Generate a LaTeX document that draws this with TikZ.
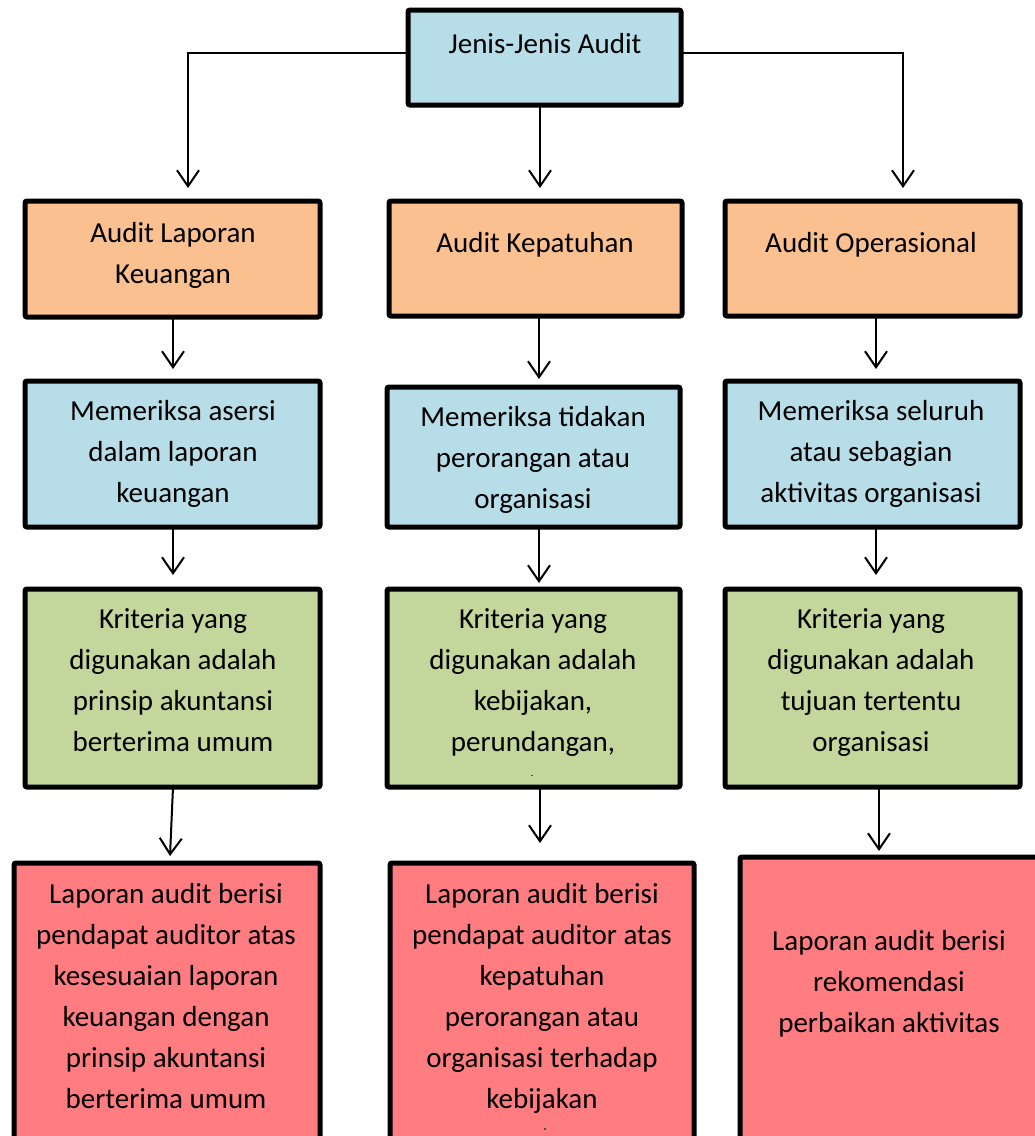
\documentclass[tikz,border=0pt]{standalone}
\usepackage{fontspec}
\setmainfont{Carlito}
\usetikzlibrary{arrows.meta}

\definecolor{boxblue}{RGB}{183,222,232}
\definecolor{boxorange}{RGB}{250,192,143}
\definecolor{boxgreen}{RGB}{195,214,155}
\definecolor{boxred}{RGB}{255,124,128}

\tikzset{
  box/.style={draw=black, line width=5pt, rounded corners=2pt,
    rectangle, inner sep=0pt, outer sep=0pt},
  % labels are placed by the baseline of their last line
  txt/.style={align=center, inner sep=0pt, anchor=base,
    font=\fontsize{29}{41}\selectfont},
  arr/.style={draw=black, line width=2pt,
    -{Straight Barb[length=16pt,width=22pt,line width=2pt]}},
}

% place a box by its corners (border centre lines)
\newcommand{\mkbox}[6]{%
  \node[box, fill=#2, minimum width=#5-#3, minimum height=#6-#4]
    (#1) at ({(#3+#5)/2},{(#4+#6)/2}) {};}

\begin{document}
\begin{tikzpicture}[x=1pt,y=-1pt]
\useasboundingbox (0,0) rectangle (1035,1136);
\clip (0,0) rectangle (1035,1136);

% top
\mkbox{top}{boxblue}{408}{10}{681}{105}
\node[txt] (ttop) at (545,53) {Jenis-Jenis Audit};

% row 1: audit types
\mkbox{oA}{boxorange}{25}{201}{320}{317}
\mkbox{oB}{boxorange}{389}{201}{682}{316}
\mkbox{oC}{boxorange}{725}{201}{1020}{316}
\node[txt] (toA) at (173,283) {Audit Laporan\\Keuangan};
\node[txt] (toB) at (535,252) {Audit Kepatuhan};
\node[txt] (toC) at (871,252) {Audit Operasional};

% row 2: what is examined
\mkbox{bA}{boxblue}{25}{381}{320}{527}
\mkbox{bB}{boxblue}{387}{387}{680}{527}
\mkbox{bC}{boxblue}{725}{381}{1020}{527}
\node[txt] (tbA) at (173,502) {Memeriksa asersi\\dalam laporan\\keuangan};
\node[txt] (tbB) at (533,508) {Memeriksa tidakan\\perorangan atau\\organisasi};
\node[txt] (tbC) at (871,502) {Memeriksa seluruh\\atau sebagian\\aktivitas organisasi};

% row 3: criteria
\mkbox{gA}{boxgreen}{25}{589}{320}{787}
\mkbox{gB}{boxgreen}{387}{589}{680}{787}
\mkbox{gC}{boxgreen}{725}{589}{1020}{787}
\node[txt] (tgA) at (173,751) {Kriteria yang\\digunakan adalah\\prinsip akuntansi\\berterima umum};
\node[txt] (tgB) at (533,751) {Kriteria yang\\digunakan adalah\\kebijakan,\\perundangan,};
\node[txt] (tgC) at (871,751) {Kriteria yang\\digunakan adalah\\tujuan tertentu\\organisasi};
\fill[black!70] (530.5,774.5) rectangle (533,776);

% row 4: reports
\mkbox{rA}{boxred}{14}{863}{320}{1160}
\mkbox{rB}{boxred}{390}{863}{694}{1160}
\mkbox{rC}{boxred}{740}{857}{1042}{1160}
\node[txt] (trA) at (166,1108) {Laporan audit berisi\\pendapat auditor atas\\kesesuaian laporan\\keuangan dengan\\prinsip akuntansi\\berterima umum};
\node[txt] (trB) at (542,1108) {Laporan audit berisi\\pendapat auditor atas\\kepatuhan\\perorangan atau\\organisasi terhadap\\kebijakan};
\node[txt] (trC) at (889,1032) {Laporan audit berisi\\rekomendasi\\perbaikan aktivitas};
\fill[black!70] (543.5,1128) rectangle (546,1129.5);

% connectors from the top box
\coordinate (cA) at (188,188);
\coordinate (cB) at (540,188);
\coordinate (cC) at (903,188);
\draw[arr] (top.west |- 0,53) -| (cA);
\draw[arr] (top.south -| cB) -- (cB);
\draw[arr] (top.east |- 0,53) -| (cC);

% vertical chains
\draw[arr] (oA.south -| 173,0) -- (173,369);
\draw[arr] (oB.south -| 539,0) -- (539,379);
\draw[arr] (oC.south -| 876,0) -- (876,369);

\draw[arr] (bA.south -| 173,0) -- (173,575);
\draw[arr] (bB.south -| 539,0) -- (539,583);
\draw[arr] (bC.south -| 876,0) -- (876,575);

\draw[arr] (gA.south -| 173,0) -- (170,856);
\draw[arr] (gB.south -| 540,0) -- (540,843);
\draw[arr] (gC.south -| 879,0) -- (879,851);
\end{tikzpicture}
\end{document}
